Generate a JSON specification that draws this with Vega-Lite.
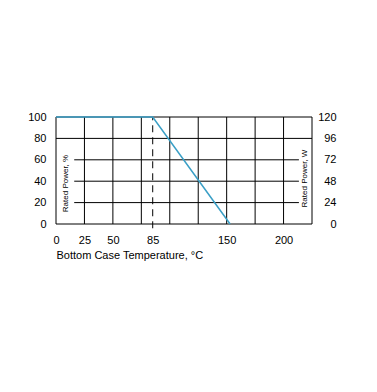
{
  "$schema": "https://vega.github.io/schema/vega-lite/v6.json",
  "autosize": "none",
  "width": 256,
  "height": 107,
  "padding": {"left": 56, "top": 117, "right": 65, "bottom": 168},
  "background": "white",
  "config": {
    "view": {"stroke": null},
    "font": "Liberation Sans",
    "axis": {"labelFont": "Liberation Sans", "titleFont": "Liberation Sans", "labelColor": "black", "titleColor": "black", "labelOverlap": false, "labelBound": false}
  },
  "datasets": {
    "grid": [
      {"x": 0, "x2": 0, "y": 0, "y2": 100},
      {"x": 25, "x2": 25, "y": 0, "y2": 100},
      {"x": 50, "x2": 50, "y": 0, "y2": 100},
      {"x": 75, "x2": 75, "y": 0, "y2": 100},
      {"x": 100, "x2": 100, "y": 0, "y2": 100},
      {"x": 125, "x2": 125, "y": 0, "y2": 100},
      {"x": 150, "x2": 150, "y": 0, "y2": 100},
      {"x": 175, "x2": 175, "y": 0, "y2": 100},
      {"x": 200, "x2": 200, "y": 0, "y2": 100},
      {"x": 225, "x2": 225, "y": 0, "y2": 100},
      {"x": 0, "x2": 225, "y": 0, "y2": 0},
      {"x": 16, "x2": 213.5, "y": 20, "y2": 20},
      {"x": 16, "x2": 213.5, "y": 40, "y2": 40},
      {"x": 16, "x2": 213.5, "y": 60, "y2": 60},
      {"x": 0, "x2": 225, "y": 80, "y2": 80},
      {"x": 0, "x2": 225, "y": 100, "y2": 100}
    ],
    "derating": [
      {"temp": 0, "pct": 100, "watts": 120},
      {"temp": 85, "pct": 100, "watts": 120},
      {"temp": 153, "pct": 0, "watts": 0}
    ],
    "knee": [
      {"temp": 85, "low": -4, "high": 100}
    ]
  },
  "layer": [
    {
      "data": {"name": "grid"},
      "mark": {"type": "rule", "color": "black", "strokeWidth": 1},
      "encoding": {
        "x": {
          "field": "x", "type": "quantitative",
          "scale": {"domain": [0, 225], "nice": false, "zero": false},
          "axis": {
            "orient": "bottom",
            "values": [0, 25, 50, 85, 150, 200],
            "domain": false, "ticks": false, "tickSize": 0, "grid": false,
            "labelFontSize": 11, "labelPadding": 10, "labelFlush": false, "labelOverlap": false,
            "title": "Bottom Case Temperature, °C",
            "titleFontSize": 11, "titleFontWeight": "normal",
            "titleAnchor": "start", "titleAlign": "left", "titlePadding": 4
          }
        },
        "x2": {"field": "x2"},
        "y": {
          "field": "y", "type": "quantitative",
          "scale": {"domain": [0, 100], "nice": false, "zero": false},
          "axis": {
            "orient": "left",
            "values": [0, 20, 40, 60, 80, 100],
            "domain": false, "ticks": false, "tickSize": 0, "grid": false,
            "labelFontSize": 11, "labelPadding": 10, "labelFlush": false, "labelOverlap": false,
            "title": "Rated Power, %",
            "titleFontSize": 8, "titleFontWeight": "normal",
            "titleAngle": 270, "titleAlign": "center", "titleBaseline": "middle",
            "titleX": 9, "titleY": 66
          }
        },
        "y2": {"field": "y2"}
      }
    },
    {
      "data": {"name": "knee"},
      "mark": {"type": "rule", "color": "black", "strokeWidth": 1, "strokeDash": [7, 5]},
      "encoding": {
        "x": {"field": "temp", "type": "quantitative"},
        "y": {"field": "low", "type": "quantitative", "scale": {"domain": [0, 100], "nice": false, "zero": false}, "axis": null},
        "y2": {"field": "high"}
      }
    },
    {
      "data": {"name": "derating"},
      "mark": {"type": "line", "color": "#3a9fc6", "strokeWidth": 1.5},
      "encoding": {
        "x": {"field": "temp", "type": "quantitative"},
        "y": {
          "field": "watts", "type": "quantitative",
          "scale": {"domain": [0, 120], "nice": false, "zero": false},
          "axis": {
            "orient": "right",
            "values": [0, 24, 48, 72, 96, 120],
            "domain": false, "ticks": false, "tickSize": 0, "grid": false,
            "labelFontSize": 11, "labelPadding": 24, "labelAlign": "right", "labelFlush": false, "labelOverlap": false,
            "title": "Rated Power, W",
            "titleFontSize": 8, "titleFontWeight": "normal",
            "titleAngle": 270, "titleAlign": "center", "titleBaseline": "middle",
            "titleX": -8, "titleY": 61
          }
        }
      }
    }
  ],
  "resolve": {"scale": {"y": "independent"}, "axis": {"y": "independent"}}
}
